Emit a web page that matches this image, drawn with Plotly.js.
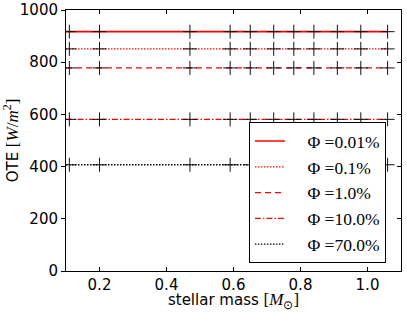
<!DOCTYPE html>
<html>
<head>
<meta charset="utf-8">
<script src="https://cdn.plot.ly/plotly-3.0.1.min.js"></script>
<style>html,body{margin:0;padding:0;background:#fff;}#chart{width:407px;height:312px;}</style>
</head>
<body>
<div id="chart"></div>
<script>
// stellar masses [M_sun]
const lineMass   = [0.10, 0.11, 0.20, 0.47, 0.59, 0.65, 0.72, 0.78, 0.84, 0.91, 0.98, 1.06];
const markerMass = [0.11, 0.20, 0.47, 0.59, 0.65, 0.72, 0.78, 0.84, 0.91, 0.98, 1.06];
// OTE [W/m^2] for each Phi
const ote001 = [917, 917, 917, 917, 917, 917, 917, 917, 917, 917, 917, 917];
const ote01  = [851, 851, 851, 851, 851, 851, 851, 851, 851, 851, 851, 851];
const ote1   = [778, 778, 778, 778, 778, 778, 778, 778, 778, 778, 778, 778];
const ote10  = [581, 581, 581, 581, 581, 581, 581, 581, 581, 581, 581, 581];
const ote70  = [407, 407, 407, 407, 407, 407, 407, 407, 407, 407, 407, 407];
const seriesLabels = ['Φ =0.01%', 'Φ =0.1%', 'Φ =1.0%', 'Φ =10.0%', 'Φ =70.0%'];
const xTicks = [0.2, 0.4, 0.6, 0.8, 1.0];
const yTicks = [0, 200, 400, 600, 800, 1000];

const series = [ote001, ote01, ote1, ote10, ote70];
const colors = ['#ff0000', '#ff0000', '#ff0000', '#ff0000', '#000000'];
const dashes = ['solid', '1.5px,1.5px', '6px,4px', '6px,2px,1.5px,2px', '1.5px,1.5px'];

const traces = [];
series.forEach((vals, i) => {
  traces.push({
    x: lineMass, y: vals, mode: 'lines', name: '\u2003' + seriesLabels[i],
    legendgroup: 'g' + i,
    line: {color: colors[i], width: i === 0 ? 1.6 : 1.3, dash: dashes[i]}
  });
});
series.forEach((vals, i) => {
  traces.push({
    x: markerMass, y: vals.slice(1), mode: 'markers', showlegend: false,
    marker: {symbol: 'cross-thin', size: 10, line: {color: '#111', width: 1}}
  });
});
// invisible trace for the right-hand axis
traces.push({x: [lineMass[0]], y: [0], yaxis: 'y2', mode: 'markers', showlegend: false,
  hoverinfo: 'skip', marker: {opacity: 0}});

const serif = '"Liberation Serif", "DejaVu Serif", serif';
const sans = '"DejaVu Sans", sans-serif';
const mathOpen = '<span style="font-family:\'Liberation Serif\';font-size:17px">';

const layout = {
  width: 407, height: 312,
  margin: {l: 66, r: 6, t: 10, b: 41, pad: 0},
  paper_bgcolor: '#fff', plot_bgcolor: '#fff',
  font: {family: sans, size: 15, color: '#000'},
  showlegend: true,
  legend: {
    x: 0.955, xanchor: 'right', y: 0.03, yanchor: 'bottom',
    bgcolor: '#fff', bordercolor: '#000', borderwidth: 1,
    font: {family: serif, size: 17.5, color: '#000'},
    traceorder: 'grouped', tracegroupgap: 0
  },
  xaxis: {
    range: [0.1, 1.1], tickvals: xTicks, ticktext: xTicks.map(v => v.toFixed(1)),
    ticks: 'inside', ticklen: 4, tickcolor: '#000', mirror: 'ticks',
    showline: true, linecolor: '#000', linewidth: 1, showgrid: false, zeroline: false,
    tickfont: {family: sans, size: 15},
    title: {text: 'stellar mass ' + mathOpen + '[<i>M</i><sub>⊙</sub>]</span>',
      font: {family: sans, size: 15}, standoff: 0}
  },
  yaxis: {
    range: [0, 1000], tickvals: yTicks,
    ticks: 'outside', ticklen: 4, tickcolor: '#000', mirror: true,
    showline: true, linecolor: '#000', linewidth: 1, showgrid: false, zeroline: false,
    tickfont: {family: sans, size: 15},
    title: {text: 'OTE ' + mathOpen + '[<i>W</i>/<i>m</i><sup>2</sup>]</span>',
      font: {family: sans, size: 15}, standoff: 0}
  },
  yaxis2: {
    overlaying: 'y', side: 'right', matches: 'y', range: [0, 1000], tickvals: yTicks,
    ticks: 'inside', ticklen: 4, tickcolor: '#000', showticklabels: false,
    showline: false, showgrid: false, zeroline: false
  }
};

Plotly.newPlot('chart', traces, layout, {displayModeBar: false, staticPlot: true});
</script>
</body>
</html>
